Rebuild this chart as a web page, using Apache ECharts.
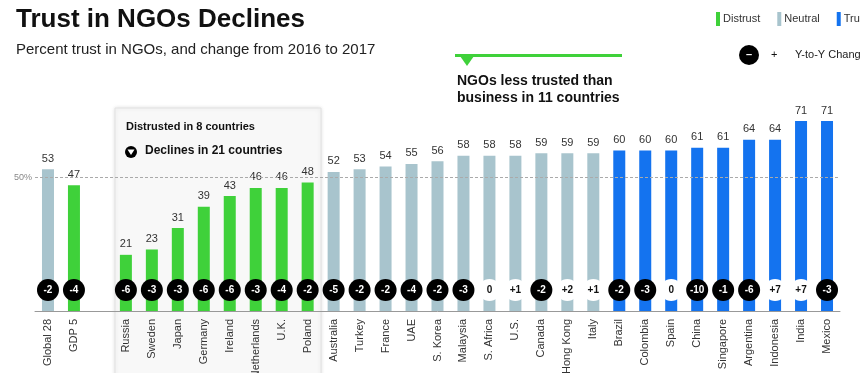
<!DOCTYPE html>
<html><head><meta charset="utf-8">
<script src="https://cdn.jsdelivr.net/npm/echarts@6/dist/echarts.min.js"></script>
<style>html,body{margin:0;padding:0;background:#fff}#c{width:860px;height:373px}</style>
</head><body><div id="c"></div>
<script>
const categories = ['Global 28','GDP 5','','Russia','Sweden','Japan','Germany','Ireland','Netherlands','U.K.','Poland','Australia','Turkey','France','UAE','S. Korea','Malaysia','S. Africa','U.S.','Canada','Hong Kong','Italy','Brazil','Colombia','Spain','China','Singapore','Argentina','Indonesia','India','Mexico'];
const trustValues = [53,47,null,21,23,31,39,43,46,46,48,52,53,54,55,56,58,58,58,59,59,59,60,60,60,61,61,64,64,71,71];
const yoyChange = [-2,-4,null,-6,-3,-3,-6,-6,-3,-4,-2,-5,-2,-2,-4,-2,-3,0,1,-2,2,1,-2,-3,0,-10,-1,-6,7,7,-3];
const distrustMax = 50, trustMin = 60;

const FONT = '"Liberation Sans", Arial, sans-serif';
const C_DIS = '#3fd13a', C_NEU = '#a8c4cd', C_TRU = '#1473ef';

const pick = f => trustValues.map(v => (v != null && f(v)) ? v : '-');
const topLabel = {show:true, position:'top', distance:5, fontSize:11, color:'#333', fontFamily:FONT};

const chart = echarts.init(document.getElementById('c'));
chart.setOption({
  animation:false,
  textStyle:{fontFamily:FONT},
  title:[
    {text:'Trust in NGOs Declines', left:11, top:2, textStyle:{fontSize:26, fontWeight:'bold', color:'#111', fontFamily:FONT}},
    {text:'Percent trust in NGOs, and change from 2016 to 2017', left:11, top:37, textStyle:{fontSize:15, fontWeight:'normal', color:'#222', fontFamily:FONT}}
  ],
  legend:{left:716, top:12, width:400, itemWidth:4, itemHeight:14, itemGap:17, padding:0,
    icon:'rect', textStyle:{fontSize:11, color:'#333', padding:[0,0,0,-2]},
    data:['Distrust','Neutral','Trust']},
  grid:{left:35, right:20, top:97, bottom:62, outerBoundsMode:'none', containLabel:false},
  xAxis:{type:'category', data:categories,
    axisLine:{lineStyle:{color:'#999'}}, axisTick:{show:false},
    axisLabel:{rotate:90, fontSize:11, color:'#333', margin:8, interval:0}},
  yAxis:{type:'value', min:0, max:80, show:false},
  series:[
    {name:'Distrust', type:'bar', barWidth:12, barGap:'-100%', data:pick(v=>v<distrustMax),
      itemStyle:{color:C_DIS}, label:topLabel, z:3,
      markLine:{silent:true, symbol:'none', data:[{yAxis:50}],
        lineStyle:{color:'#aaa', type:[3,2], width:1},
        label:{position:'start', formatter:'50%', fontSize:9, color:'#888', distance:3}}},
    {name:'Neutral', type:'bar', barWidth:12, barGap:'-100%', data:pick(v=>v>=distrustMax && v<trustMin),
      itemStyle:{color:C_NEU}, label:topLabel, z:3},
    {name:'Trust', type:'bar', barWidth:12, barGap:'-100%', data:pick(v=>v>=trustMin),
      itemStyle:{color:C_TRU}, label:topLabel, z:3},
    {name:'change', type:'bar', barWidth:12, barGap:'-100%', data:trustValues.map(v=>v==null?'-':v),
      itemStyle:{color:'rgba(0,0,0,0)'}, z:4, silent:true,
      label:{show:true, position:'insideBottom', distance:10,
        formatter:p=>{const c=yoyChange[p.dataIndex]; if(c==null) return ''; return c<0?'{neg|'+c+'}':'{pos|'+(c>0?'+'+c:c)+'}';},
        rich:{
          neg:{backgroundColor:'#000', color:'#fff', width:22, height:22, lineHeight:22, borderRadius:11, align:'center', fontSize:10, fontWeight:'bold'},
          pos:{backgroundColor:'#fff', color:'#111', width:22, height:22, lineHeight:22, borderRadius:11, align:'center', fontSize:10, fontWeight:'bold'}
        }}}
  ],
  graphic:[
    {type:'rect', z:-10, shape:{x:115, y:108, width:206, height:280},
      style:{fill:'#f8f8f8', stroke:'#e2e2e2', lineWidth:1, shadowBlur:4, shadowColor:'rgba(0,0,0,0.12)'}},
    {type:'text', z:5, left:126, top:121, style:{text:'Distrusted in 8 countries', font:'bold 11px '+FONT, fill:'#111'}},
    {type:'circle', z:5, shape:{cx:131, cy:152, r:6}, style:{fill:'#000'}},
    {type:'polygon', z:6, shape:{points:[[127.5,149.5],[134.5,149.5],[131,155]]}, style:{fill:'#fff'}},
    {type:'text', z:5, left:145, top:145, style:{text:'Declines in 21 countries', font:'bold 12px '+FONT, fill:'#111'}},
    {type:'line', z:5, shape:{x1:455, y1:55.5, x2:622, y2:55.5}, style:{stroke:C_DIS, lineWidth:3}},
    {type:'polygon', z:5, shape:{points:[[460,56],[474,56],[467,66]]}, style:{fill:C_DIS}},
    {type:'text', z:5, left:457, top:73, style:{text:'NGOs less trusted than\nbusiness in 11 countries', font:'bold 14px '+FONT, fill:'#111', lineHeight:17}},
    {type:'circle', z:5, shape:{cx:749, cy:55, r:10}, style:{fill:'#000'}},
    {type:'text', z:6, left:746, top:49, style:{text:'–', font:'bold 11px '+FONT, fill:'#fff'}},
    {type:'text', z:5, left:771, top:49, style:{text:'+', font:'11px '+FONT, fill:'#111'}},
    {type:'text', z:5, left:795, top:49, style:{text:'Y-to-Y Change', font:'11px '+FONT, fill:'#222'}}
  ]
});
</script></body></html>
